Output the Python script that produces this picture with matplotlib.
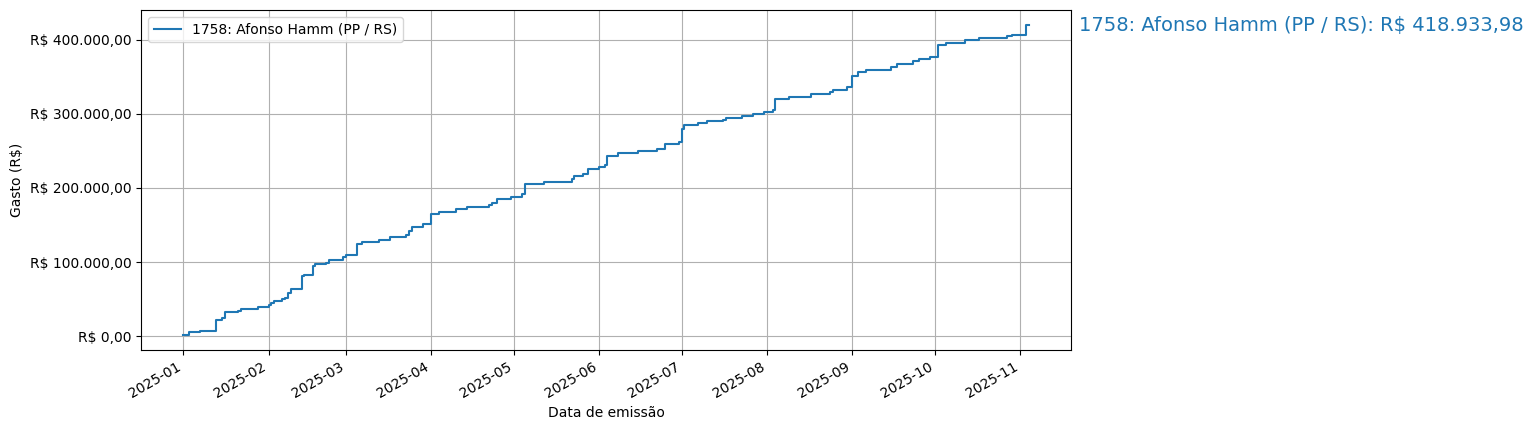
import matplotlib
matplotlib.use("Agg")
import matplotlib.pyplot as plt
import matplotlib.dates as mdates
import matplotlib.ticker as mticker
import pandas as pd

series_label = "1758: Afonso Hamm (PP / RS)"
total_value = 418933.98

dates = [
    "2025-01-01", "2025-01-03", "2025-01-07", "2025-01-12", "2025-01-13", "2025-01-15",
    "2025-01-16", "2025-01-21", "2025-01-22", "2025-01-28", "2025-02-01", "2025-02-02",
    "2025-02-03", "2025-02-06", "2025-02-07", "2025-02-08", "2025-02-09", "2025-02-13",
    "2025-02-14", "2025-02-17", "2025-02-18", "2025-02-22", "2025-02-23", "2025-02-28",
    "2025-03-01", "2025-03-05", "2025-03-07", "2025-03-13", "2025-03-17", "2025-03-23",
    "2025-03-24", "2025-03-25", "2025-03-29", "2025-04-01", "2025-04-04", "2025-04-10",
    "2025-04-14", "2025-04-22", "2025-04-23", "2025-04-25", "2025-04-30", "2025-05-04",
    "2025-05-05", "2025-05-12", "2025-05-22", "2025-05-23", "2025-05-26", "2025-05-28",
    "2025-06-01", "2025-06-03", "2025-06-04", "2025-06-08", "2025-06-15", "2025-06-22",
    "2025-06-25", "2025-06-30", "2025-07-01", "2025-07-02", "2025-07-07", "2025-07-10",
    "2025-07-16", "2025-07-17", "2025-07-23", "2025-07-27", "2025-07-31", "2025-08-03",
    "2025-08-04", "2025-08-09", "2025-08-17", "2025-08-24", "2025-08-25", "2025-08-30",
    "2025-09-01", "2025-09-03", "2025-09-06", "2025-09-15", "2025-09-17", "2025-09-23",
    "2025-09-25", "2025-09-29", "2025-10-02", "2025-10-05", "2025-10-12", "2025-10-17",
    "2025-10-27", "2025-10-29", "2025-11-03", "2025-11-04",
]
cumulative = [
    2300, 5400, 6500, 7700, 22600, 24700,
    32800, 34700, 37400, 39600, 41500, 44200,
    47300, 49600, 51800, 58500, 63900, 81000,
    82400, 94600, 96900, 99100, 102700, 106800,
    109000, 124000, 127400, 129700, 133800, 136500,
    141900, 147700, 150900, 164500, 168000, 171200,
    174300, 177000, 180100, 184700, 188200, 191500,
    205800, 208500, 211700, 216200, 219300, 225300,
    228400, 230700, 243200, 247700, 250000, 252300,
    259000, 262200, 279300, 285100, 286900, 289600,
    291900, 294200, 297300, 299600, 301700, 305000,
    319800, 322000, 326600, 328800, 332000, 336500,
    350400, 356800, 359500, 363500, 367200, 370700,
    373900, 377000, 392800, 395000, 399600, 402300,
    404500, 406400, 418933.98, 418933.98,
]

x = pd.to_datetime(dates)

fig, ax = plt.subplots(figsize=(15.33, 4.3), dpi=100)
line, = ax.plot(x, cumulative, drawstyle="steps-post", color="#1f77b4", label=series_label)

ax.set_xlabel("Data de emissão")
ax.set_ylabel("Gasto (R$)")
ax.grid(True)
ax.legend(loc="upper left")

ax.xaxis.set_major_locator(mdates.MonthLocator())
ax.xaxis.set_major_formatter(mdates.DateFormatter("%Y-%m"))


def brl(v, pos=None):
    s = f"{v:,.2f}".replace(",", "X").replace(".", ",").replace("X", ".")
    return f"R$ {s}"


ax.yaxis.set_major_locator(mticker.MultipleLocator(100000))
ax.yaxis.set_major_formatter(mticker.FuncFormatter(brl))

fig.autofmt_xdate()

ax.annotate(f"{series_label}: {brl(total_value)}",
            xy=(1.0, total_value), xycoords=("axes fraction", "data"),
            xytext=(6, 0), textcoords="offset points",
            ha="left", va="center", fontsize=14, color="#1f77b4",
            annotation_clip=False)

fig.subplots_adjust(left=0.092, right=0.6986, bottom=0.186, top=0.9767)
fig.savefig("out.png", dpi=100)
